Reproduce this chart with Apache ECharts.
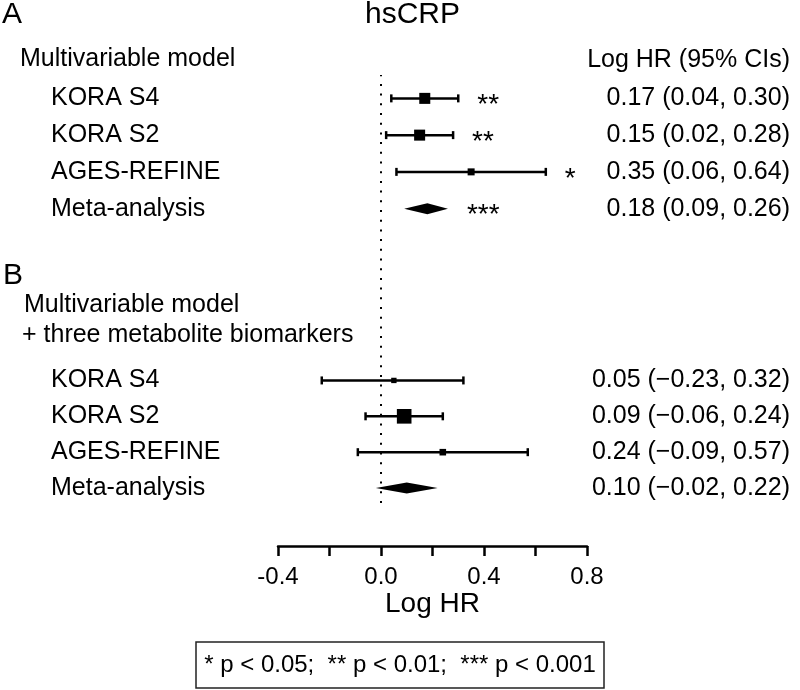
<!DOCTYPE html>
<html>
<head>
<meta charset="utf-8">
<script src="https://cdn.jsdelivr.net/npm/echarts@6/dist/echarts.min.js"></script>
<style>html,body{margin:0;padding:0;background:#fff}#c{width:800px;height:690px}</style>
</head>
<body>
<div id="c"></div>
<script>
// ---- data ----
var studies = ['KORA S4', 'KORA S2', 'AGES-REFINE', 'Meta-analysis'];
// Panel A: Multivariable model
var estA = [0.17, 0.15, 0.35, 0.18];
var lowA = [0.04, 0.02, 0.06, 0.09];
var highA = [0.30, 0.28, 0.64, 0.26];
var weightA = [42, 42, 17, null];      // study weights (%), meta row drawn as diamond
var starsA = ['**', '**', '*', '***'];
// Panel B: Multivariable model + three metabolite biomarkers
var estB = [0.05, 0.09, 0.24, 0.10];
var lowB = [-0.23, -0.06, -0.09, -0.02];
var highB = [0.32, 0.24, 0.57, 0.22];
var weightB = [10, 74, 15, null];
var starsB = ['', '', '', ''];
var xTicks = [-0.4, 0.0, 0.4, 0.8];

// ---- helpers ----
var FONT = '"Liberation Sans", Arial, Helvetica, sans-serif';
function fmt(v) { return (v < 0 ? '\u2212' : '') + Math.abs(v).toFixed(2); }
function ciText(e, l, h) { return e.map(function (v, i) { return fmt(v) + ' (' + fmt(l[i]) + ', ' + fmt(h[i]) + ')'; }); }
function rows(e, l, h, w) {
  return e.map(function (v, i) { return [v, l[i], h[i], i, w[i]]; });
}
var rowsStars = [starsA, starsB];
function renderItem(params, api) {
  var m = api.value(0), lo = api.value(1), hi = api.value(2), idx = api.value(3);
  var w = api.value(4), st = rowsStars[params.seriesIndex][params.dataIndex];
  var pm = api.coord([m, idx]), pl = api.coord([lo, idx]), ph = api.coord([hi, idx]);
  var y = pm[1];
  var children = [];
  var isMeta = !(w > 0);
  if (isMeta) {
    var hh = 5.5;
    children.push({ type: 'polygon', shape: { points: [[pl[0], y], [pm[0], y - hh], [ph[0], y], [pm[0], y + hh]] }, style: { fill: '#000' } });
  } else {
    var cap = 4;
    var ls = { stroke: '#000', lineWidth: 2.5 };
    children.push({ type: 'line', shape: { x1: pl[0], y1: y, x2: ph[0], y2: y }, style: ls });
    children.push({ type: 'line', shape: { x1: pl[0], y1: y - cap, x2: pl[0], y2: y + cap }, style: ls });
    children.push({ type: 'line', shape: { x1: ph[0], y1: y - cap, x2: ph[0], y2: y + cap }, style: ls });
    var sz = 1.7 * Math.sqrt(w);
    children.push({ type: 'rect', shape: { x: pm[0] - sz / 2, y: y - sz / 2, width: sz, height: sz }, style: { fill: '#000' } });
  }
  if (st) {
    children.push({ type: 'text', style: { text: st, x: ph[0] + 19, y: y + 7, verticalAlign: 'middle', align: 'left', font: '28px ' + FONT, fill: '#000' } });
  }
  return { type: 'group', children: children };
}

var labelStyle = { color: '#000', fontSize: 25, fontFamily: FONT };
function headerTitle(text, pos, size) {
  var t = { text: text, padding: 0, textStyle: { color: '#000', fontSize: size || 25, fontWeight: 'normal', fontFamily: FONT } };
  for (var k in pos) t[k] = pos[k];
  return t;
}
function hiddenY(grid, data, right) {
  return {
    type: 'category', gridIndex: grid, data: data, inverse: true, position: right ? 'right' : 'left',
    axisLine: { show: false }, axisTick: { show: false },
    axisLabel: Object.assign({ align: right ? 'right' : 'left', margin: right ? 790 - (800 - gridR) : gridL - 51 }, labelStyle)
  };
}

var chart = echarts.init(document.getElementById('c'), null, { renderer: 'canvas' });
var gridL = 278, gridR = 213;
var option = {
  backgroundColor: '#fff',
  animation: false,
  title: [
    headerTitle('A', { left: 2, top: 0 }, 30),
    headerTitle('hsCRP', { left: 365, top: 0 }, 30),
    headerTitle('Multivariable model', { left: 20, top: 47 }),
    headerTitle('Log HR (95% CIs)', { right: 10, top: 48 }),
    headerTitle('B', { left: 3, top: 261 }, 30),
    headerTitle('Multivariable model', { left: 24, top: 293 }),
    headerTitle('+ three metabolite biomarkers', { left: 22, top: 323 }),
    {
      text: '* p < 0.05;  ** p < 0.01;  *** p < 0.001',
      left: 'center', top: 642, padding: [11, 8],
      borderColor: '#222', borderWidth: 1.5,
      textStyle: { color: '#000', fontSize: 24, fontWeight: 'normal', fontFamily: FONT }
    }
  ],
  grid: [
    { left: gridL, right: gridR, top: 80, height: 147 },
    { left: gridL, right: gridR, top: 362.5, height: 143.5 },
    { left: gridL, right: gridR, top: 75, height: 428 },
    { left: gridL, right: gridR, top: 545, height: 1 }
  ],
  xAxis: [
    { type: 'value', gridIndex: 0, min: -0.4, max: 0.8, show: false },
    { type: 'value', gridIndex: 1, min: -0.4, max: 0.8, show: false },
    { type: 'value', gridIndex: 2, min: -0.4, max: 0.8, show: false },
    {
      type: 'value', gridIndex: 3, min: -0.4, max: 0.8, interval: 0.2,
      name: 'Log HR', nameLocation: 'middle', nameGap: 44,
      nameTextStyle: { color: '#000', fontSize: 28, fontFamily: FONT },
      axisLine: { show: true, lineStyle: { color: '#000', width: 2.5 } },
      axisTick: { show: true, length: 10, lineStyle: { color: '#000', width: 2.5 } },
      splitLine: { show: false },
      axisLabel: {
        color: '#000', fontSize: 24, fontFamily: FONT, margin: 19,
        formatter: function (v) {
          for (var i = 0; i < xTicks.length; i++) if (Math.abs(v - xTicks[i]) < 1e-9) return xTicks[i].toFixed(1);
          return '';
        }
      }
    }
  ],
  yAxis: [
    hiddenY(0, studies, false),
    hiddenY(0, ciText(estA, lowA, highA), true),
    hiddenY(1, studies, false),
    hiddenY(1, ciText(estB, lowB, highB), true),
    { type: 'value', gridIndex: 2, min: 0, max: 1, show: false },
    { type: 'value', gridIndex: 3, min: 0, max: 1, show: false }
  ],
  series: [
    { type: 'custom', xAxisIndex: 0, yAxisIndex: 0, renderItem: renderItem, data: rows(estA, lowA, highA, weightA), z: 5 },
    { type: 'custom', xAxisIndex: 1, yAxisIndex: 2, renderItem: renderItem, data: rows(estB, lowB, highB, weightB), z: 5 },
    {
      type: 'scatter', xAxisIndex: 2, yAxisIndex: 4, data: [], silent: true,
      markLine: { silent: true, symbol: 'none', label: { show: false },
        lineStyle: { color: '#000', width: 2, type: [2, 7.7] },
        data: [{ xAxis: 0 }] }
    }
  ]
};
chart.setOption(option);
</script>
</body>
</html>
